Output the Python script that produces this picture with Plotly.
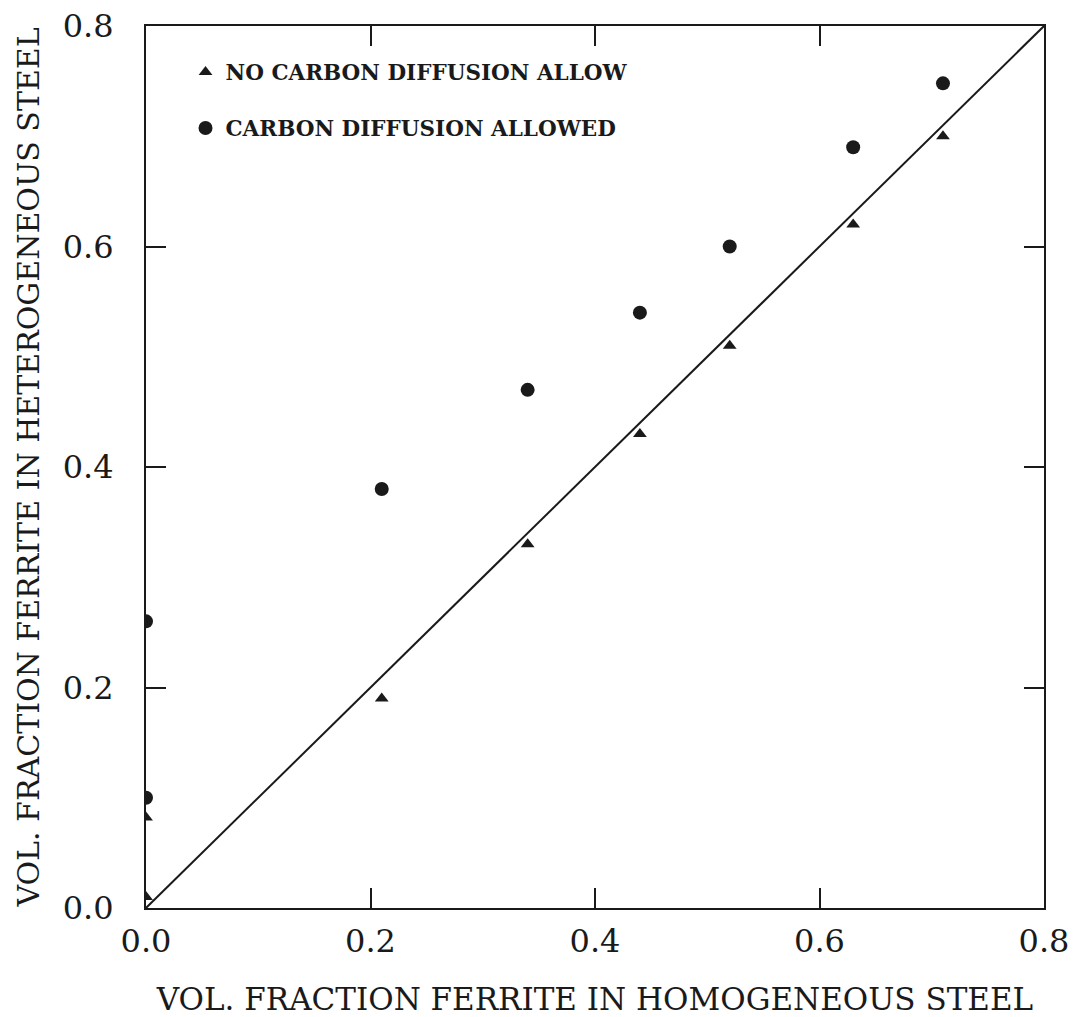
import plotly.graph_objects as go

# Data
x_no_diff = [0.0, 0.0, 0.21, 0.34, 0.44, 0.52, 0.63, 0.71]
y_no_diff = [0.01, 0.082, 0.19, 0.33, 0.43, 0.51, 0.62, 0.70]

x_diff = [0.0, 0.0, 0.21, 0.34, 0.44, 0.52, 0.63, 0.71]
y_diff = [0.10, 0.26, 0.38, 0.47, 0.54, 0.60, 0.69, 0.748]

x_line = [0.0, 0.8]
y_line = [0.0, 0.8]

tick_vals = [0.0, 0.2, 0.4, 0.6, 0.8]
tick_text = ["0.0", "0.2", "0.4", "0.6", "0.8"]

legend_no = "NO CARBON DIFFUSION ALLOW"
legend_yes = "CARBON DIFFUSION ALLOWED"
x_title = "VOL. FRACTION FERRITE IN HOMOGENEOUS STEEL"
y_title = "VOL. FRACTION FERRITE IN HETEROGENEOUS STEEL"

SERIF = "DejaVu Serif"
INK = "#1a1a1a"

fig = go.Figure()
fig.add_trace(go.Scatter(x=x_line, y=y_line, mode="lines",
                         line=dict(color=INK, width=2), showlegend=False,
                         hoverinfo="skip"))
fig.add_trace(go.Scatter(x=x_no_diff, y=y_no_diff, mode="markers", name=legend_no,
                         legendgroup="a",
                         marker=dict(symbol="triangle-up", size=12, color=INK)))
fig.add_trace(go.Scatter(x=x_diff, y=y_diff, mode="markers", name=legend_yes,
                         legendgroup="b",
                         marker=dict(symbol="circle", size=14, color=INK)))

axis_common = dict(
    range=[0, 0.8], tickvals=tick_vals, ticktext=tick_text,
    showline=True, linecolor=INK, linewidth=2, mirror="allticks",
    ticks="inside", ticklen=20, tickwidth=1.5, tickcolor=INK,
    showgrid=False, zeroline=False, automargin=False,
    tickfont=dict(family=SERIF, size=32, color=INK),
)

fig.update_layout(
    width=1082, height=1017,
    margin=dict(l=146, r=38, t=26, b=109),
    paper_bgcolor="white", plot_bgcolor="white",
    xaxis=dict(**axis_common, ticklabelstandoff=4,
               title=dict(text=x_title,
                          font=dict(family=SERIF, size=31, color=INK),
                          standoff=32)),
    yaxis=dict(**axis_common, ticklabelstandoff=24,
               title=dict(text=y_title,
                          font=dict(family=SERIF, size=30, color=INK),
                          standoff=14)),
    legend=dict(x=0.044, y=0.971, xanchor="left", yanchor="top",
                font=dict(family=SERIF, size=21.5, color=INK, weight="bold"),
                bgcolor="rgba(0,0,0,0)", traceorder="grouped",
                tracegroupgap=25, itemwidth=30),
    showlegend=True,
)

fig.write_html("out.html")
